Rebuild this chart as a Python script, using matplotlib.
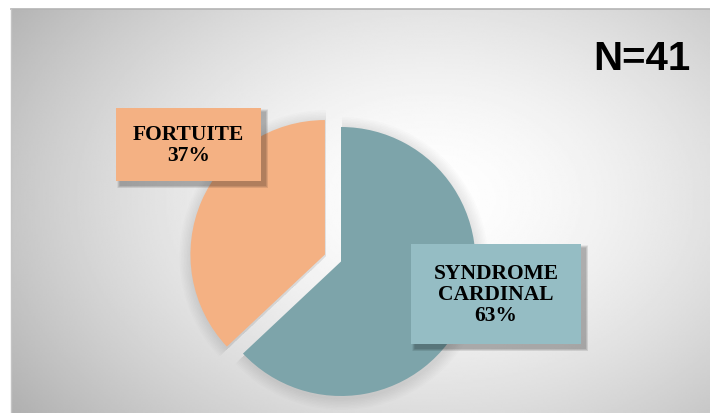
import numpy as np
import matplotlib
matplotlib.use('Agg')
import matplotlib.pyplot as plt
from matplotlib.patches import Rectangle

# ----------- DATA ------------
categories = ['SYNDROME\nCARDINAL', 'FORTUITE']
percents = [63, 37]
n_total = 41
# -----------------------------

slice_colors = ['#7da4aa', '#f4b183']
box_colors = ['#95bdc4', '#f4b183']

W, H = 710, 414
fig = plt.figure(figsize=(W / 100, H / 100), dpi=100)
ax = fig.add_axes([0, 0, 1, 1])

# soft radial grey background inside the frame
xs = np.linspace(11, W, 400)
ys = np.linspace(0, H - 10, 240)
X, Y = np.meshgrid(xs, ys)
d = np.sqrt(((X - 430) / 430) ** 2 + ((Y - 214) / 300) ** 2)
shade = 1.0 - 0.23 * np.clip(d, 0, 1.3) ** 1.6
ax.imshow(shade, cmap='gray', vmin=0, vmax=1, origin='lower',
          extent=[11, W, 0, H - 10], interpolation='bilinear', zorder=0)
ax.plot([11, W], [H - 10, H - 10], color='#b4b4b4', lw=1.2, zorder=1)
ax.plot([11, 11], [0, H - 10], color='#c4c4c4', lw=1.0, zorder=1)

center = (341, 151.5)
radius = 134.5
explode = [0, 17.5]  # pie() offsets wedges in data units

# faint blurred halo behind the pie
for i in range(8):
    r = radius + 1.5 * (8 - i)
    ax.pie(percents, colors=['#000000'] * 2, startangle=90, counterclock=False,
           explode=explode, radius=r,
           center=(center[0] + 1, center[1] - 2),
           wedgeprops=dict(linewidth=0, alpha=0.012, zorder=2))

ax.pie(percents, colors=slice_colors, startangle=90, counterclock=False,
       explode=explode, radius=radius, center=center,
       wedgeprops=dict(linewidth=0, zorder=3))

# label boxes: (x, y, w, h) in pixels from the bottom-left
boxes = [(411, 69, 170, 100), (116, 232, 145, 73)]
for (bx, by, bw, bh), col, cat, pct in zip(boxes, box_colors, categories, percents):
    for k in range(6):
        g = 1 + k
        ax.add_patch(Rectangle((bx + 4 - g / 2, by - 4 - g / 2), bw + g, bh + g,
                               facecolor='black', edgecolor='none',
                               alpha=0.05, zorder=4))
    ax.add_patch(Rectangle((bx, by), bw, bh, facecolor=col,
                           edgecolor='none', zorder=5))
    ax.text(bx + bw / 2, by + bh / 2, f'{cat}\n{pct}%', ha='center', va='center',
            family='Liberation Serif', fontweight='bold', fontsize=15.5,
            linespacing=1.05, color='black', zorder=6)

ax.text(691, 344, f'N={n_total}', ha='right', va='baseline',
        family='Liberation Sans', fontweight='bold', fontsize=29, color='black',
        zorder=6)

ax.set_xlim(0, W)
ax.set_ylim(0, H)
ax.set_aspect('auto')
ax.axis('off')

fig.savefig('out.png', dpi=100, facecolor='white')
